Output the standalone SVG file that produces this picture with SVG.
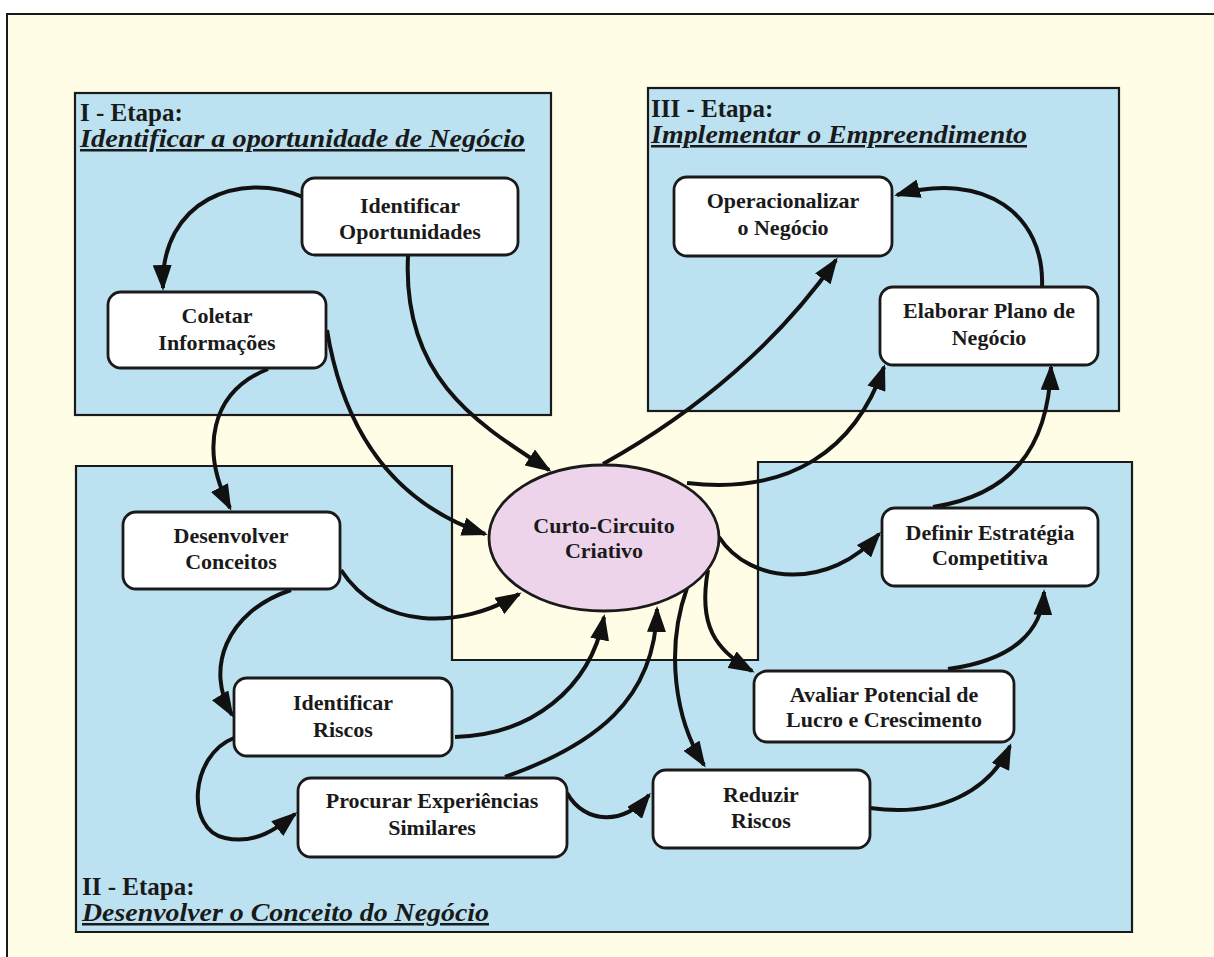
<svg xmlns="http://www.w3.org/2000/svg" width="1214" height="957" viewBox="0 0 1214 957">
<defs>
<style>
.panel{fill:#BCE2F1;stroke:#1a1a1a;stroke-width:2.2}
.node rect{fill:#FFFFFF;stroke:#1a1a1a;stroke-width:2.8}
.node text{font-family:"Liberation Serif","Times New Roman",serif;font-weight:bold;font-size:22px;fill:#1a1a1a;text-anchor:middle}
.title{font-family:"Liberation Serif","Times New Roman",serif;font-weight:bold;font-size:25px;fill:#1a1a1a}
.sub{font-family:"Liberation Serif","Times New Roman",serif;font-weight:bold;font-style:italic;font-size:25px;fill:#1a1a1a;text-decoration:underline}
.conn path{fill:none;stroke:#111;stroke-width:4}
</style>
<marker id="ah" markerUnits="userSpaceOnUse" viewBox="0 0 26 19" markerWidth="26" markerHeight="19" refX="23" refY="9.5" orient="auto">
<path d="M0,0 L26,9.5 L0,19 z" fill="#111"/>
</marker>
</defs>
<rect x="0" y="0" width="1214" height="957" fill="#FFFFFF"/>
<rect x="7" y="14" width="1207" height="943" fill="#FFFDE6"/>
<path d="M7,957 L7,14 L1214,14" fill="none" stroke="#1a1a1a" stroke-width="2"/>

<g id="stage1">
<rect class="panel" x="75" y="93" width="476" height="322"/>
<text class="title" x="80" y="121">I - Etapa:</text>
<text class="sub" x="80" y="147" textLength="445" lengthAdjust="spacingAndGlyphs">Identificar a oportunidade de Negócio</text>
</g>
<g id="stage3">
<rect class="panel" x="648" y="88" width="471" height="323"/>
<text class="title" x="651" y="117">III - Etapa:</text>
<text class="sub" x="651" y="143" textLength="376" lengthAdjust="spacingAndGlyphs">Implementar o Empreendimento</text>
</g>
<g id="stage2">
<path class="panel" d="M76,466 L452,466 L452,660 L758,660 L758,462 L1132,462 L1132,932 L76,932 Z"/>
<text class="title" x="82" y="895">II - Etapa:</text>
<text class="sub" x="82" y="921" textLength="407" lengthAdjust="spacingAndGlyphs">Desenvolver o Conceito do Negócio</text>
</g>

<g class="conn" id="connectors">
<path marker-end="url(#ah)" d="M303,197 C240,170 160,200 163,288"/>
<path marker-end="url(#ah)" d="M408,256 C402,380 480,425 549,470"/>
<path marker-end="url(#ah)" d="M327,330 C345,440 400,505 485,534"/>
<path marker-end="url(#ah)" d="M268,369 C210,392 200,450 230,508"/>
<path marker-end="url(#ah)" d="M341,570 C380,630 460,630 519,594"/>
<path marker-end="url(#ah)" d="M291,590 C225,612 205,670 232,715"/>
<path marker-end="url(#ah)" d="M234,738 C190,755 185,830 225,838 C255,845 278,828 295,814"/>
<path marker-end="url(#ah)" d="M455,737 C530,735 590,690 604,617"/>
<path marker-end="url(#ah)" d="M505,777 C595,745 655,700 657,609"/>
<path marker-end="url(#ah)" d="M567,793 C585,825 625,825 649,795"/>
<path marker-end="url(#ah)" d="M687,588 C665,650 675,720 704,765"/>
<path marker-end="url(#ah)" d="M708,570 C698,625 715,650 752,671"/>
<path marker-end="url(#ah)" d="M719,537 C750,585 830,590 879,534"/>
<path marker-end="url(#ah)" d="M687,483 C790,495 855,450 884,367"/>
<path marker-end="url(#ah)" d="M603,464 C700,410 780,340 836,260"/>
<path marker-end="url(#ah)" d="M1042,287 C1045,215 985,170 897,195"/>
<path marker-end="url(#ah)" d="M933,507 C1010,495 1048,450 1051,367"/>
<path marker-end="url(#ah)" d="M948,669 C1015,660 1042,630 1044,592"/>
<path marker-end="url(#ah)" d="M870,808 C940,818 990,790 1010,746"/>
</g>

<g id="curto-circuito" class="node">
<ellipse cx="604" cy="538" rx="115" ry="73" fill="#EDD4EA" stroke="#1a1a1a" stroke-width="2.8"/>
<text x="604" y="533">Curto-Circuito</text>
<text x="604" y="558">Criativo</text>
</g>
<g id="identificar-oportunidades" class="node">
<rect x="302" y="178" width="216" height="77" rx="13"/>
<text x="410" y="213">Identificar</text>
<text x="410" y="239">Oportunidades</text>
</g>
<g id="coletar-informacoes" class="node">
<rect x="108" y="292" width="218" height="76" rx="13"/>
<text x="217" y="323">Coletar</text>
<text x="217" y="350">Informações</text>
</g>
<g id="desenvolver-conceitos" class="node">
<rect x="123" y="512" width="217" height="77" rx="13"/>
<text x="231" y="543">Desenvolver</text>
<text x="231" y="569">Conceitos</text>
</g>
<g id="identificar-riscos" class="node">
<rect x="234" y="678" width="218" height="78" rx="13"/>
<text x="343" y="710">Identificar</text>
<text x="343" y="737">Riscos</text>
</g>
<g id="procurar-experiencias" class="node">
<rect x="298" y="778" width="269" height="79" rx="13"/>
<text x="432" y="808">Procurar Experiências</text>
<text x="432" y="835">Similares</text>
</g>
<g id="reduzir-riscos" class="node">
<rect x="653" y="770" width="217" height="78" rx="13"/>
<text x="761" y="802">Reduzir</text>
<text x="761" y="828">Riscos</text>
</g>
<g id="avaliar-potencial" class="node">
<rect x="754" y="671" width="260" height="71" rx="13"/>
<text x="884" y="702">Avaliar Potencial de</text>
<text x="884" y="727">Lucro e Crescimento</text>
</g>
<g id="definir-estrategia" class="node">
<rect x="882" y="508" width="216" height="78" rx="13"/>
<text x="990" y="540">Definir Estratégia</text>
<text x="990" y="565">Competitiva</text>
</g>
<g id="elaborar-plano" class="node">
<rect x="880" y="287" width="218" height="78" rx="13"/>
<text x="989" y="318">Elaborar Plano de</text>
<text x="989" y="345">Negócio</text>
</g>
<g id="operacionalizar" class="node">
<rect x="674" y="177" width="218" height="79" rx="13"/>
<text x="783" y="208">Operacionalizar</text>
<text x="783" y="235">o Negócio</text>
</g>
</svg>
